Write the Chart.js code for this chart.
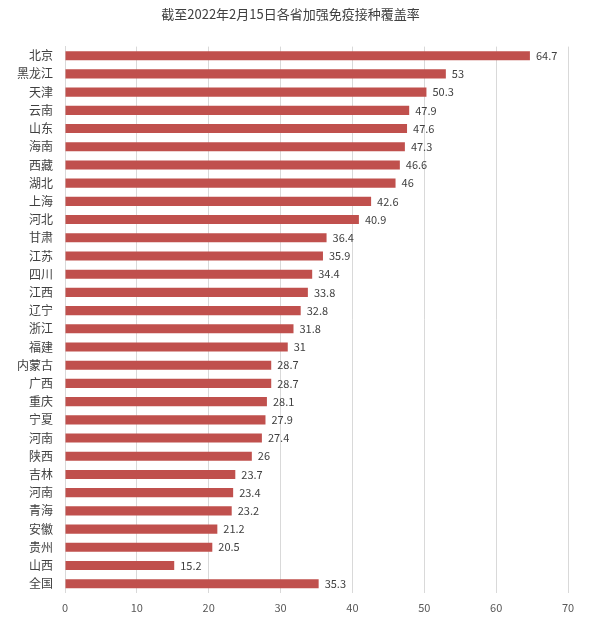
<!DOCTYPE html>
<html><head><meta charset="utf-8">
<script src="https://cdn.jsdelivr.net/npm/chart.js@4/dist/chart.umd.min.js"></script>
<style>body{margin:0;background:#fff}#wrap{width:600px;height:631px}</style>
</head><body><div id="wrap"><canvas id="c"></canvas></div>
<script>
const provinces = ['北京','黑龙江','天津','云南','山东','海南','西藏','湖北','上海','河北','甘肃','江苏','四川','江西','辽宁','浙江','福建','内蒙古','广西','重庆','宁夏','河南','陕西','吉林','河南','青海','安徽','贵州','山西','全国']
const coverage = [64.7,53,50.3,47.9,47.6,47.3,46.6,46,42.6,40.9,36.4,35.9,34.4,33.8,32.8,31.8,31,28.7,28.7,28.1,27.9,27.4,26,23.7,23.4,23.2,21.2,20.5,15.2,35.3]
const xTicks = [0,10,20,30,40,50,60,70]

const font = "'Noto Sans CJK SC', sans-serif"

// value labels to the right of each bar
const valueLabels = {
  id: 'valueLabels',
  afterDatasetsDraw(chart) {
    const ctx = chart.ctx
    const meta = chart.getDatasetMeta(0)
    ctx.save()
    ctx.font = '11px ' + font
    ctx.fillStyle = '#404040'
    ctx.textBaseline = 'middle'
    meta.data.forEach((bar, i) => {
      ctx.fillText(String(coverage[i]), bar.x + 6, bar.y)
    })
    ctx.restore()
  }
}

new Chart(document.getElementById('c'), {
  type: 'bar',
  data: {
    labels: provinces,
    datasets: [{
      data: coverage,
      backgroundColor: '#c0504d',
      barPercentage: 0.5,
      categoryPercentage: 1
    }]
  },
  options: {
    indexAxis: 'y',
    responsive: true,
    maintainAspectRatio: false,
    animation: false,
    layout: { padding: { left: 13, right: 32, top: 0, bottom: 9 } },
    plugins: {
      legend: { display: false },
      tooltip: { enabled: false },
      title: {
        display: true,
        text: '截至2022年2月15日各省加强免疫接种覆盖率',
        color: '#404040',
        font: { family: font, size: 13, weight: 'normal' },
        padding: { top: 6, bottom: 25 }
      }
    },
    scales: {
      x: {
        min: 0, max: 70,
        afterBuildTicks: axis => { axis.ticks = xTicks.map(v => ({ value: v })) },
        grid: { color: '#d9d9d9', drawTicks: false },
        border: { display: false },
        ticks: { color: '#595959', font: { family: font, size: 11 }, padding: 8 }
      },
      y: {
        grid: { display: false },
        border: { color: '#d9d9d9' },
        ticks: { color: '#404040', font: { family: font, size: 12 }, autoSkip: false, padding: 4 }
      }
    }
  },
  plugins: [valueLabels]
})
</script></body></html>
